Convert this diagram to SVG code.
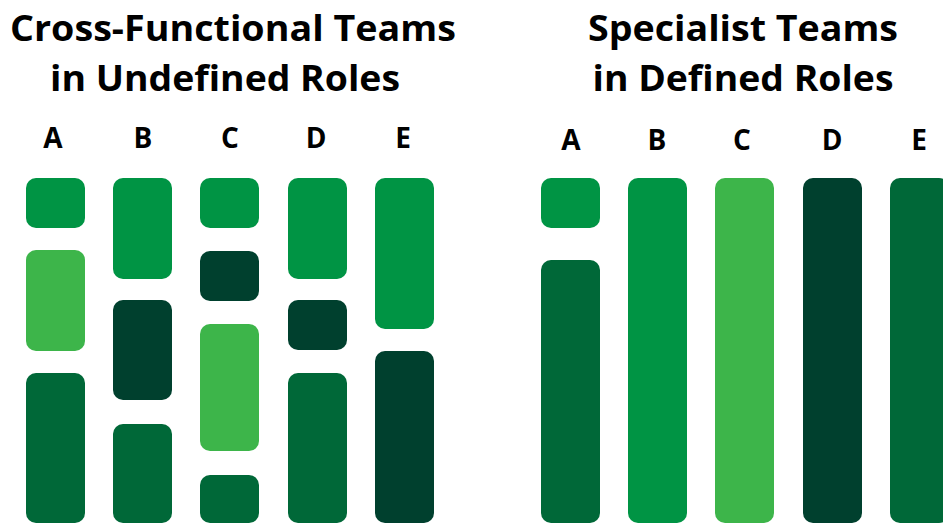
<svg xmlns="http://www.w3.org/2000/svg" width="943" height="523" viewBox="0 0 943 523">
<style>
.t{font-family:"Open Sans","Noto Sans","Liberation Sans",sans-serif;font-weight:bold;fill:#000;text-anchor:middle}
.h{font-size:36px}
.l{font-size:28px}
.g1{fill:#009444}
.g2{fill:#3DB54A}
.g3{fill:#00402E}
.g4{fill:#006838}
rect{rx:10px;ry:10px}
</style>
<rect width="943" height="523" fill="#fff" rx="0" ry="0"/>
<g id="title-left">
<text class="t h" x="233" y="41" textLength="446" lengthAdjust="spacingAndGlyphs">Cross-Functional Teams</text>
<text class="t h" x="225" y="91" textLength="350" lengthAdjust="spacingAndGlyphs">in Undefined Roles</text>
</g>
<g id="title-right">
<text class="t h" x="743" y="41" textLength="310" lengthAdjust="spacingAndGlyphs">Specialist Teams</text>
<text class="t h" x="743" y="91" textLength="301" lengthAdjust="spacingAndGlyphs">in Defined Roles</text>
</g>
<g id="labels-left">
<text class="t l" x="53" y="148">A</text>
<text class="t l" x="143" y="148">B</text>
<text class="t l" x="230" y="148">C</text>
<text class="t l" x="316" y="148">D</text>
<text class="t l" x="403" y="148">E</text>
</g>
<g id="labels-right">
<text class="t l" x="571" y="150">A</text>
<text class="t l" x="657" y="150">B</text>
<text class="t l" x="742" y="150">C</text>
<text class="t l" x="832" y="150">D</text>
<text class="t l" x="919" y="150">E</text>
</g>
<g id="left-A">
<rect class="g1" x="26" y="178" width="59" height="50"/>
<rect class="g2" x="26" y="250" width="59" height="101"/>
<rect class="g4" x="26" y="373" width="59" height="150"/>
</g>
<g id="left-B">
<rect class="g1" x="113" y="178" width="59" height="101"/>
<rect class="g3" x="113" y="300" width="59" height="100"/>
<rect class="g4" x="113" y="424" width="59" height="99"/>
</g>
<g id="left-C">
<rect class="g1" x="200" y="178" width="59" height="50"/>
<rect class="g3" x="200" y="251" width="59" height="50"/>
<rect class="g2" x="200" y="324" width="59" height="127"/>
<rect class="g4" x="200" y="475" width="59" height="48"/>
</g>
<g id="left-D">
<rect class="g1" x="288" y="178" width="59" height="101"/>
<rect class="g3" x="288" y="300" width="59" height="50"/>
<rect class="g4" x="288" y="373" width="59" height="150"/>
</g>
<g id="left-E">
<rect class="g1" x="375" y="178" width="59" height="151"/>
<rect class="g3" x="375" y="351" width="59" height="172"/>
</g>
<g id="right-A">
<rect class="g1" x="541" y="178" width="59" height="50"/>
<rect class="g4" x="541" y="260" width="59" height="263"/>
</g>
<g id="right-B"><rect class="g1" x="628" y="178" width="59" height="345"/></g>
<g id="right-C"><rect class="g2" x="715" y="178" width="59" height="345"/></g>
<g id="right-D"><rect class="g3" x="803" y="178" width="59" height="345"/></g>
<g id="right-E"><rect class="g4" x="890" y="178" width="59" height="345"/></g>
<g id="connectors"/>
</svg>
